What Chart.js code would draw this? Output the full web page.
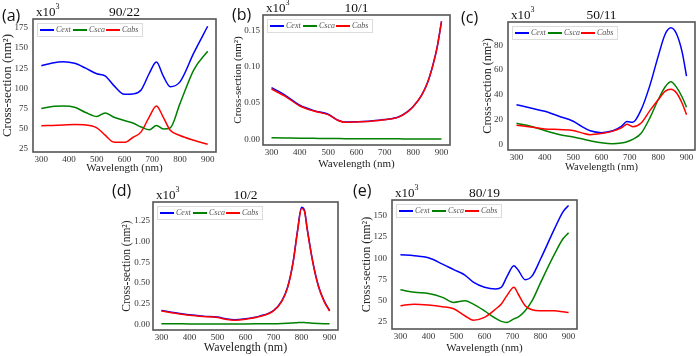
<!DOCTYPE html>
<html>
<head>
<meta charset="utf-8">
<script src="https://cdn.jsdelivr.net/npm/chart.js@4.4.1/dist/chart.umd.min.js"></script>
<style>
  body { margin: 0; background: #fff; width: 696px; height: 356px; position: relative; overflow: hidden; }
  canvas { position: absolute; }
</style>
</head>
<body>
<canvas id="pa" width="232" height="178" style="left:0px;top:0px"></canvas>
<canvas id="pb" width="232" height="178" style="left:230px;top:0px"></canvas>
<canvas id="pc" width="236" height="178" style="left:460px;top:0px"></canvas>
<canvas id="pd" width="236" height="178" style="left:110px;top:178px"></canvas>
<canvas id="pe" width="236" height="178" style="left:352px;top:178px"></canvas>
<script>
// wavelength ticks shared by all panels
const xTicks = [300, 400, 500, 600, 700, 800, 900];

// (a) 90/22
const aWl   = [300, 340, 380, 420, 460, 500, 530, 560, 600, 630, 660, 690, 715, 740, 765, 800, 850, 900];
const aCext = [128, 131.5, 133, 131, 125, 118, 115.5, 104, 92.5, 93, 98, 119, 132.5, 115, 102, 108, 144, 177];
const aCsca = [75, 77.5, 78, 76.5, 70, 65, 69.5, 64.5, 60, 57, 52, 48.5, 54, 49.5, 51, 81, 123, 146];
const aCabs = [53.5, 54, 54.5, 55, 54.5, 51, 42, 33.5, 33, 39, 46, 65, 78, 64, 48, 41.5, 35.5, 30.5];
const aYTicks = [25, 50, 75, 100, 125, 150, 175];

// (b) 10/1
const bWl   = [300, 350, 400, 450, 500, 530, 560, 600, 650, 700, 750, 780, 800, 830, 850, 870, 885, 900];
const bCext = [0.0715, 0.0605, 0.047, 0.0395, 0.0345, 0.0272, 0.0237, 0.0242, 0.0252, 0.0272, 0.0312, 0.0382, 0.0452, 0.0612, 0.0777, 0.1032, 0.1282, 0.1632];
const bCsca = [0.002, 0.0017, 0.0014, 0.0012, 0.001, 0.0009, 0.0008, 0.0007, 0.0006, 0.0005, 0.0005, 0.0004, 0.0004, 0.0004, 0.0004, 0.0003, 0.0003, 0.0003];
const bCabs = [0.0695, 0.059, 0.046, 0.039, 0.034, 0.027, 0.0235, 0.024, 0.025, 0.027, 0.031, 0.038, 0.045, 0.061, 0.0775, 0.103, 0.128, 0.163];
const bYTicks = [0, 0.05, 0.10, 0.15];

// (c) 50/11
const cWl   = [300, 350, 400, 450, 500, 530, 560, 600, 640, 670, 690, 710, 740, 770, 800, 825, 845, 865, 885, 900];
const cCext = [32, 29.3, 26.7, 22.7, 18.7, 14.5, 11, 9.5, 11, 14.5, 18.5, 17.8, 28, 47, 71, 89, 94, 89, 74, 55];
const cCsca = [17, 14.7, 11.2, 8, 6, 4.5, 3, 1.3, 0.6, 1.2, 2.2, 4, 9, 21, 36, 46.5, 50.5, 46, 38, 30];
const cCabs = [15.5, 14.1, 12.5, 12, 11.2, 9.3, 7.8, 8.8, 10.7, 13.3, 16.3, 14.3, 17.3, 27, 36, 43, 44.5, 41.5, 33, 24];
const cYTicks = [0, 20, 40, 60, 80];

// (d) 10/2
const dWl   = [300, 350, 400, 450, 500, 530, 560, 600, 650, 700, 730, 750, 770, 785, 800, 810, 820, 840, 860, 880, 900];
const dCext = [0.166, 0.138, 0.114, 0.098, 0.086, 0.065, 0.053, 0.065, 0.098, 0.166, 0.286, 0.447, 0.758, 1.12, 1.415, 1.385, 1.16, 0.757, 0.465, 0.285, 0.165];
const dCsca = [0.005, 0.005, 0.004, 0.004, 0.004, 0.004, 0.004, 0.004, 0.005, 0.006, 0.009, 0.012, 0.016, 0.019, 0.021, 0.02, 0.017, 0.012, 0.009, 0.007, 0.006];
const dCabs = [0.161, 0.133, 0.109, 0.093, 0.081, 0.06, 0.048, 0.06, 0.093, 0.161, 0.28, 0.44, 0.75, 1.11, 1.40, 1.37, 1.15, 0.75, 0.46, 0.28, 0.16];
const dYTicks = [0, 0.25, 0.5, 0.75, 1.0, 1.25];

// (e) 80/19
const eWl   = [300, 350, 400, 450, 490, 530, 560, 600, 640, 660, 680, 705, 720, 745, 770, 800, 850, 880, 900];
const eCext = [104, 103, 100.5, 93, 86.5, 80, 71.5, 65.5, 63.5, 65.5, 78, 91, 86, 74.5, 79, 99, 135, 155, 162.5];
const eCsca = [62.5, 59.5, 58, 53.5, 47.5, 49.5, 45.5, 37.5, 28.5, 25, 23.8, 28, 30, 37.7, 49.6, 71, 105, 123, 130];
const eCabs = [43.7, 45.5, 44.5, 42.5, 40, 31.7, 26.5, 29.8, 39.7, 45.6, 55.6, 65.5, 57.5, 43.7, 38.9, 37.7, 37.5, 36.5, 35.7];
const eYTicks = [25, 50, 75, 100, 125, 150];

const serif = '"Liberation Serif", "DejaVu Serif", serif';

// frame, legend, panel tag, x10^3 and title, drawn over the plot
const decor = {
  id: 'decor',
  afterDraw(chart, args, o) {
    const ctx = chart.ctx;
    const a = chart.chartArea;
    ctx.save();
    // box round the plot
    ctx.strokeStyle = '#555';
    ctx.lineWidth = 1.6;
    ctx.strokeRect(a.left, a.top, a.right - a.left, a.bottom - a.top);

    // legend inside top-left
    const lx = a.left + 4, ly = a.top + 4;
    ctx.fillStyle = 'rgba(255,255,255,0.85)';
    ctx.fillRect(lx, ly, 105, 13);
    ctx.strokeStyle = '#dcdcdc';
    ctx.lineWidth = 1;
    ctx.strokeRect(lx + 0.5, ly + 0.5, 105, 13);
    ctx.font = 'italic 8px ' + serif;
    ctx.textBaseline = 'middle';
    chart.data.datasets.forEach((ds, i) => {
      const x0 = lx + 3 + i * 33;
      const yc = ly + 7;
      ctx.strokeStyle = ds.borderColor;
      ctx.lineWidth = 2;
      ctx.beginPath();
      ctx.moveTo(x0, yc);
      ctx.lineTo(x0 + 14, yc);
      ctx.stroke();
      ctx.fillStyle = '#555';
      ctx.fillText(ds.label, x0 + 16, yc);
    });

    // panel tag like (a)
    ctx.fillStyle = '#111';
    ctx.font = '16px "Open Sans", sans-serif';
    ctx.textBaseline = 'middle';
    ctx.textAlign = 'left';
    ctx.fillText(o.tag, o.tagX, o.tagY);

    // x10^3 multiplier
    ctx.font = '13px ' + serif;
    ctx.textBaseline = 'alphabetic';
    ctx.fillText('x10', a.left + 3, a.top - 3);
    const w = ctx.measureText('x10').width;
    ctx.font = '8px ' + serif;
    ctx.fillText('3', a.left + 3 + w, a.top - 10);

    // title
    ctx.font = '13.5px ' + serif;
    ctx.textAlign = 'center';
    ctx.fillText(o.title, (a.left + a.right) / 2, a.top - 3);
    ctx.restore();
  }
};

function makePanel(id, p) {
  const wl = p.wl;
  const pts = vals => wl.map((x, i) => ({ x: x, y: vals[i] }));
  return new Chart(document.getElementById(id).getContext('2d'), {
    type: 'line',
    data: {
      datasets: [
        { label: 'Cext', data: pts(p.cext), borderColor: '#0000ff', order: 3 },
        { label: 'Csca', data: pts(p.csca), borderColor: '#008000', order: 2 },
        { label: 'Cabs', data: pts(p.cabs), borderColor: '#ff0000', order: 1 }
      ]
    },
    options: {
      responsive: false,
      animation: false,
      layout: { padding: { left: p.padL, right: p.padR, top: p.padT, bottom: p.padB } },
      elements: {
        point: { radius: 0 },
        line: { borderWidth: 1.5, cubicInterpolationMode: 'monotone', fill: false }
      },
      plugins: {
        legend: { display: false },
        tooltip: { enabled: false },
        decor: { tag: p.tag, tagX: p.tagX, tagY: p.tagY, title: p.title }
      },
      scales: {
        x: {
          type: 'linear',
          min: 270,
          max: 930,
          grid: { display: false, drawTicks: false },
          border: { display: false },
          afterBuildTicks: s => { s.ticks = xTicks.map(v => ({ value: v })); },
          afterFit: s => { s.height = p.xH; s.paddingLeft = 0; s.paddingRight = 0; },
          ticks: { font: { family: serif, size: 9 }, color: '#333', padding: 2, maxRotation: 0, autoSkip: false },
          title: { display: true, text: 'Wavelength (nm)', font: { family: serif, size: p.xTitle }, color: '#222', padding: 0 }
        },
        y: {
          min: p.yMin,
          max: p.yMax,
          grid: { display: false, drawTicks: false },
          border: { display: false },
          afterBuildTicks: s => { s.ticks = p.yTicks.map(v => ({ value: v })); },
          afterFit: s => { s.width = p.yW; s.paddingTop = 0; s.paddingBottom = 0; },
          ticks: {
            font: { family: serif, size: 9 },
            color: '#333',
            padding: p.yPad,
            autoSkip: false,
            callback: v => p.dec ? v.toFixed(2) : String(v)
          },
          title: { display: true, text: 'Cross-section (nm²)', font: { family: serif, size: p.yTitle }, color: '#222', padding: 0 }
        }
      }
    },
    plugins: [decor]
  });
}

makePanel('pa', { wl: aWl, cext: aCext, csca: aCsca, cabs: aCabs, yTicks: aYTicks, yMin: 21, yMax: 186, dec: false,
  tag: '(a)', tagX: 2, tagY: 16, title: '90/22',
  padL: 0, yW: 33, padT: 19, padR: 16, xH: 23, padB: 3, yPad: 5, xTitle: 11, yTitle: 13 });

makePanel('pb', { wl: bWl, cext: bCext, csca: bCsca, cabs: bCabs, yTicks: bYTicks, yMin: -0.008, yMax: 0.172, dec: true,
  tag: '(b)', tagX: 2, tagY: 15, title: '10/1',
  padL: 2, yW: 31, padT: 15, padR: 12, xH: 26, padB: 7, yPad: 3, xTitle: 11, yTitle: 11 });

makePanel('pc', { wl: cWl, cext: cCext, csca: cCsca, cabs: cCabs, yTicks: cYTicks, yMin: -4.5, yMax: 98.7, dec: false,
  tag: '(c)', tagX: 1, tagY: 18, title: '50/11',
  padL: 21, yW: 27, padT: 22, padR: 1, xH: 24, padB: 4, yPad: 5, xTitle: 10.5, yTitle: 12 });

makePanel('pd', { wl: dWl, cext: dCext, csca: dCsca, cabs: dCabs, yTicks: dYTicks, yMin: -0.07, yMax: 1.48, dec: true,
  tag: '(d)', tagX: 2, tagY: 13, title: '10/2',
  padL: 10, yW: 33, padT: 24, padR: 8, xH: 25, padB: 1, yPad: 3, xTitle: 12, yTitle: 11.5 });

makePanel('pe', { wl: eWl, cext: eCext, csca: eCsca, cabs: eCabs, yTicks: eYTicks, yMin: 16, yMax: 169, dec: false,
  tag: '(e)', tagX: 1, tagY: 13, title: '80/19',
  padL: 8, yW: 32, padT: 22, padR: 11, xH: 26, padB: 1, yPad: 5, xTitle: 11, yTitle: 12 });
</script>
</body>
</html>
